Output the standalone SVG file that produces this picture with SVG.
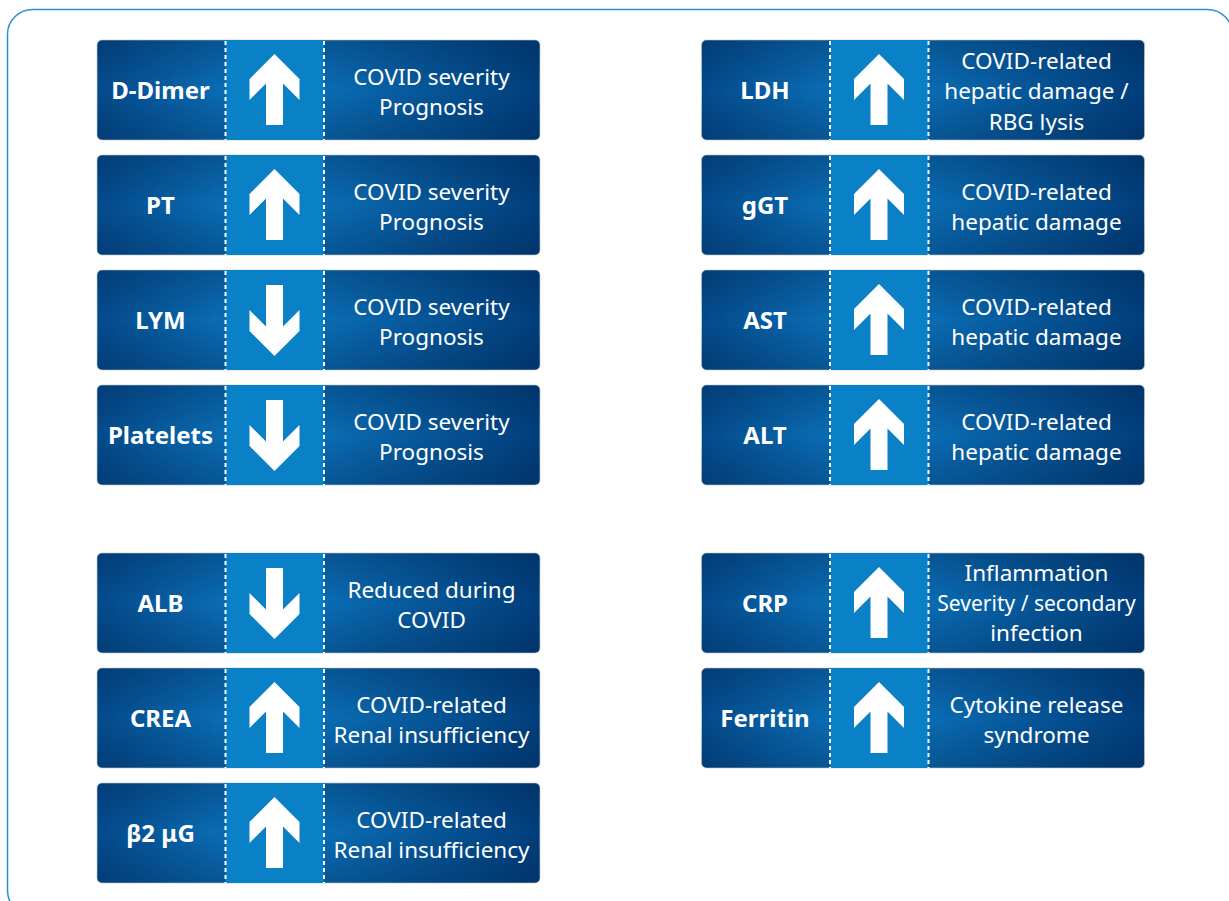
<svg xmlns="http://www.w3.org/2000/svg" xmlns:xlink="http://www.w3.org/1999/xlink" width="1229" height="901" viewBox="0 0 1229 901">
<style>
.lbl{font-family:"Noto Sans","Open Sans",sans-serif;font-weight:700;font-size:24px;fill:#fff;text-anchor:middle}
.dsc{font-family:"Noto Sans","Open Sans",sans-serif;font-weight:400;font-size:22.5px;fill:#fff;text-anchor:middle}
.dash{stroke:#fff;stroke-width:2;stroke-dasharray:4 3;fill:none}
</style>
<defs>
<linearGradient id="gH" x1="0" y1="0" x2="1" y2="0">
<stop offset="0" stop-color="#034a8b"/>
<stop offset="0.27" stop-color="#0a6bb2"/>
<stop offset="0.53" stop-color="#0a6bb2"/>
<stop offset="1" stop-color="#013e7b"/>
</linearGradient>
<linearGradient id="gV" x1="0" y1="0" x2="0" y2="1">
<stop offset="0" stop-color="#001a40" stop-opacity="0.28"/>
<stop offset="0.5" stop-color="#001a40" stop-opacity="0"/>
<stop offset="1" stop-color="#001a40" stop-opacity="0.28"/>
</linearGradient>
<g id="bg">
<rect x="0" y="0" width="443" height="100" rx="5" fill="url(#gH)" stroke="#c9d3de" stroke-width="0.8"/>
<rect x="0" y="0" width="443" height="100" rx="5" fill="url(#gV)"/>
<rect x="128.5" y="0" width="98.5" height="100" fill="#0a80c7"/>
<line class="dash" x1="128.5" y1="1" x2="128.5" y2="100"/>
<line class="dash" x1="227" y1="1" x2="227" y2="100"/>
</g>
<path id="up" d="M177.5 14 L202.5 39 L202.5 60 L186 43.5 L186 85 L169 85 L169 43.5 L152.5 60 L152.5 39 Z" fill="#fff"/>
<path id="down" d="M177.5 86 L202.5 61 L202.5 40 L186 56.5 L186 15 L169 15 L169 56.5 L152.5 40 L152.5 61 Z" fill="#fff"/>
</defs>
<rect x="7.5" y="9.5" width="1225" height="906" rx="25" fill="none" stroke="#2b8fd6" stroke-width="1.5"/>
<g id="connectors"/>
<g id="ddimer" transform="translate(97,40)"><use xlink:href="#bg"/><use xlink:href="#up"/><text class="lbl" x="63.5" y="58.5">D-Dimer</text><text class="dsc" x="334.5" y="45">COVID severity</text><text class="dsc" x="334.5" y="75">Prognosis</text></g>
<g id="pt" transform="translate(97,155)"><use xlink:href="#bg"/><use xlink:href="#up"/><text class="lbl" x="63.5" y="58.5">PT</text><text class="dsc" x="334.5" y="45">COVID severity</text><text class="dsc" x="334.5" y="75">Prognosis</text></g>
<g id="lym" transform="translate(97,270)"><use xlink:href="#bg"/><use xlink:href="#down"/><text class="lbl" x="63.5" y="58.5">LYM</text><text class="dsc" x="334.5" y="45">COVID severity</text><text class="dsc" x="334.5" y="75">Prognosis</text></g>
<g id="platelets" transform="translate(97,385)"><use xlink:href="#bg"/><use xlink:href="#down"/><text class="lbl" x="63.5" y="58.5">Platelets</text><text class="dsc" x="334.5" y="45">COVID severity</text><text class="dsc" x="334.5" y="75">Prognosis</text></g>
<g id="alb" transform="translate(97,553)"><use xlink:href="#bg"/><use xlink:href="#down"/><text class="lbl" x="63.5" y="58.5">ALB</text><text class="dsc" x="334.5" y="45">Reduced during</text><text class="dsc" x="334.5" y="75">COVID</text></g>
<g id="crea" transform="translate(97,668)"><use xlink:href="#bg"/><use xlink:href="#up"/><text class="lbl" x="63.5" y="58.5">CREA</text><text class="dsc" x="334.5" y="45">COVID-related</text><text class="dsc" x="334.5" y="75">Renal insufficiency</text></g>
<g id="b2mg" transform="translate(97,783)"><use xlink:href="#bg"/><use xlink:href="#up"/><text class="lbl" x="63.5" y="58.5">β2 μG</text><text class="dsc" x="334.5" y="45">COVID-related</text><text class="dsc" x="334.5" y="75">Renal insufficiency</text></g>
<g id="ldh" transform="translate(701.5,40)"><use xlink:href="#bg"/><use xlink:href="#up"/><text class="lbl" x="63.5" y="58.5">LDH</text><text class="dsc" x="335" y="28.5">COVID-related</text><text class="dsc" x="335" y="59">hepatic damage /</text><text class="dsc" x="335" y="89.5">RBG lysis</text></g>
<g id="ggt" transform="translate(701.5,155)"><use xlink:href="#bg"/><use xlink:href="#up"/><text class="lbl" x="63.5" y="58.5">gGT</text><text class="dsc" x="335" y="45">COVID-related</text><text class="dsc" x="335" y="75">hepatic damage</text></g>
<g id="ast" transform="translate(701.5,270)"><use xlink:href="#bg"/><use xlink:href="#up"/><text class="lbl" x="63.5" y="58.5">AST</text><text class="dsc" x="335" y="45">COVID-related</text><text class="dsc" x="335" y="75">hepatic damage</text></g>
<g id="alt" transform="translate(701.5,385)"><use xlink:href="#bg"/><use xlink:href="#up"/><text class="lbl" x="63.5" y="58.5">ALT</text><text class="dsc" x="335" y="45">COVID-related</text><text class="dsc" x="335" y="75">hepatic damage</text></g>
<g id="crp" transform="translate(701.5,553)"><use xlink:href="#bg"/><use xlink:href="#up"/><text class="lbl" x="63.5" y="58.5">CRP</text><text class="dsc" x="335" y="27.5">Inflammation</text><text class="dsc" x="335" y="57.5" style="font-size:21px">Severity / secondary</text><text class="dsc" x="335" y="87.5">infection</text></g>
<g id="ferritin" transform="translate(701.5,668)"><use xlink:href="#bg"/><use xlink:href="#up"/><text class="lbl" x="63.5" y="58.5">Ferritin</text><text class="dsc" x="335" y="45">Cytokine release</text><text class="dsc" x="335" y="75">syndrome</text></g>
</svg>
